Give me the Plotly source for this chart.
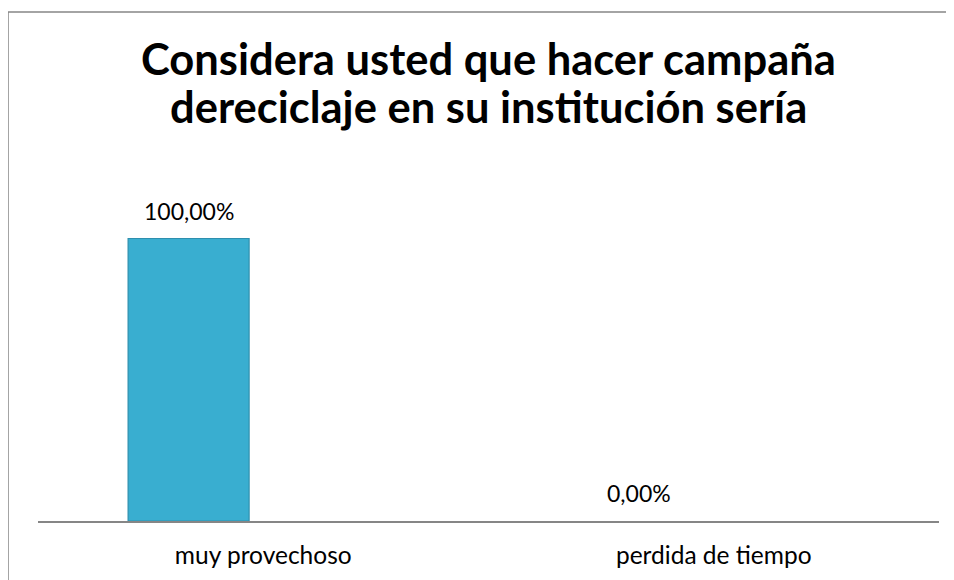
import plotly.graph_objects as go

categories = ["muy provechoso", "perdida de tiempo"]
values = [1.0, 0.0]
title_lines = ["Considera usted que hacer campaña", "dereciclaje en su institución sería"]

# page shows the figure offset by the body margin (8 px)
W, H = 946, 572
ml, mr, mt, mb = 30, 15, 174, 59
plot_w = W - ml - mr
plot_h = H - mt - mb
cat_px = plot_w / len(categories)
bar_offset = -0.300
bar_width = 0.2686

labels = [f"{v*100:.2f}%".replace(".", ",") for v in values]

fig = go.Figure()
fig.add_trace(go.Bar(
    x=categories, y=values,
    offset=bar_offset, width=bar_width,
    marker=dict(color="#39AED0",
                line=dict(color="#2E8FAE", width=[1.2 if v > 0 else 0 for v in values])),
    hoverinfo="skip",
))

for c, v, t in zip(categories, values, labels):
    fig.add_annotation(
        x=c, y=v, xref="x", yref="y", text=t, showarrow=False,
        xanchor="center", yanchor="middle",
        xshift=(bar_offset + bar_width / 2) * cat_px, yshift=28,
        font=dict(family="Lato", size=23, color="#000000"),
    )

# chart title (two lines, placed separately to control line spacing)
title_size = 43.5
title_baselines = [66, 114]
for line, baseline in zip(title_lines, title_baselines):
    fig.add_annotation(
        x=0.5, xref="x domain", y=(H - mb - (baseline - 0.36 * title_size)) / plot_h, yref="paper",
        text="<b>" + line + "</b>", showarrow=False,
        xanchor="center", yanchor="middle", align="center",
        font=dict(family="Lato", size=title_size, color="#000000"),
    )

# chart frame (left and top edges; right/bottom lie outside the view)
y_top = (H - mb - 4) / plot_h
x_left = (0 - ml) / plot_w
fig.add_shape(type="line", xref="paper", yref="paper", x0=x_left, x1=x_left,
              y0=-(mb / plot_h), y1=y_top, line=dict(color="#868686", width=1.5), layer="below")
fig.add_shape(type="line", xref="paper", yref="paper", x0=x_left, x1=1 + mr / plot_w,
              y0=y_top, y1=y_top, line=dict(color="#868686", width=1.5), layer="below")

fig.update_layout(
    width=W, height=H,
    margin=dict(l=ml, r=mr, t=mt, b=mb, pad=0),
    paper_bgcolor="white", plot_bgcolor="white",
    showlegend=False,
    xaxis=dict(showline=True, linecolor="#868686", linewidth=2, showgrid=False,
               ticks="", tickfont=dict(family="Lato", size=24.5, color="#000000"),
               ticklabelstandoff=12, fixedrange=True),
    yaxis=dict(range=[0, 1.2], visible=False, showgrid=False, fixedrange=True),
)

fig.write_html("out.html", config={"displayModeBar": False},
               post_script="document.body.style.overflow='hidden';document.documentElement.style.overflow='hidden';")
